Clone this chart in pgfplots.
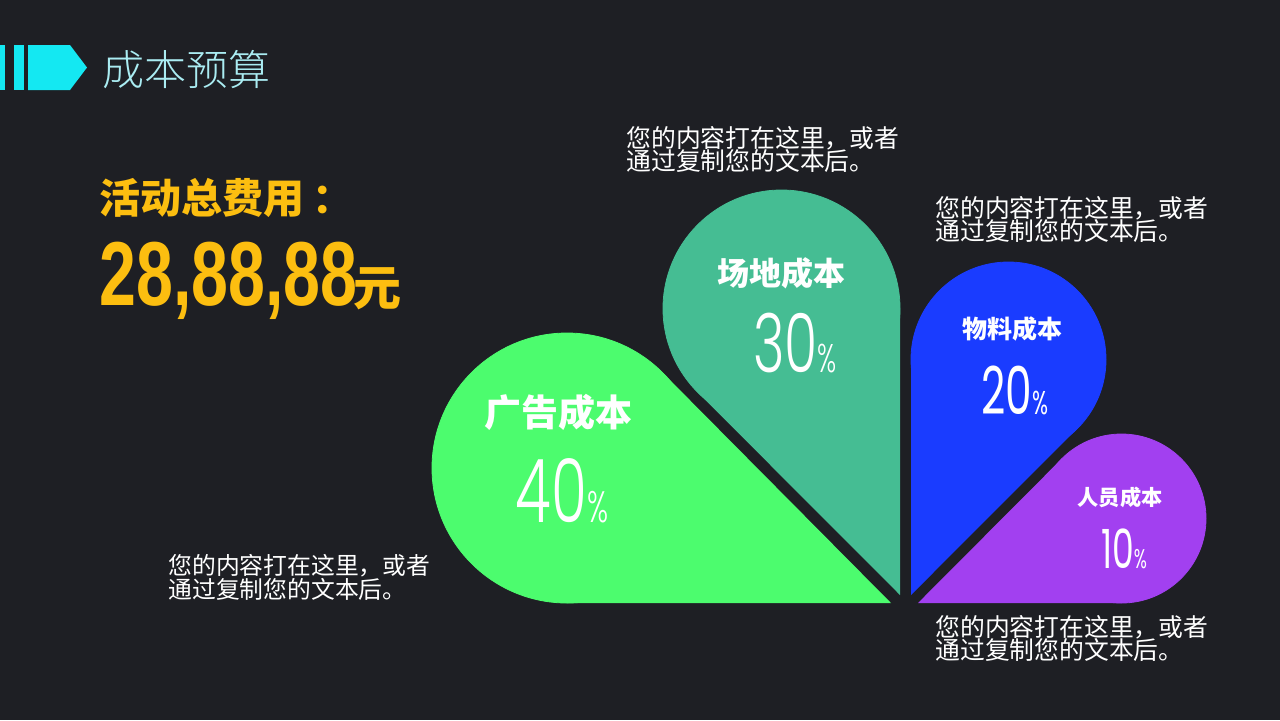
\documentclass[border=0pt]{standalone}
\usepackage{pgfplots}
\pgfplotsset{compat=1.18}
\usepackage{fontspec}
\newfontfamily\cjk{Noto Sans CJK SC}
\newfontfamily\cjklight{Noto Sans CJK SC Light}
\newfontfamily\numfont[FakeStretch=0.73]{Liberation Sans}
\newfontfamily\thinfont[FakeStretch=0.66]{Poppins Light}
\newfontfamily\regfont[FakeStretch=0.64]{Poppins}
\definecolor{bg}{RGB}{30,31,36}
\definecolor{cgreen}{RGB}{76,252,110}
\definecolor{cteal}{RGB}{69,189,147}
\definecolor{cblue}{RGB}{26,60,255}
\definecolor{cpurple}{RGB}{162,64,240}
\definecolor{cyellow}{RGB}{252,190,16}
\definecolor{ccyan}{RGB}{20,232,242}
\definecolor{ctitle}{RGB}{170,236,242}
\newcommand{\pct}[3]{{\thinfont\fontsize{#1}{#1}\selectfont #3{\fontsize{#2}{#2}\selectfont\%}}}
\newcommand{\pctr}[3]{{\regfont\fontsize{#1}{#1}\selectfont #3{\fontsize{#2}{#2}\selectfont\%}}}
\newcommand{\descA}{\cjk 您的内容打在这里，或者}
\newcommand{\descB}{\cjk 通过复制您的文本后。}
\pgfplotsset{canvas/.style={width=640pt,height=360pt,scale only axis,
  xmin=0,xmax=1280,ymin=0,ymax=720,y dir=reverse,
  hide axis,clip=false}}
\begin{document}
\begin{tikzpicture}
\begin{axis}[canvas]
\fill[bg] (axis cs:0,0) rectangle (axis cs:1280,720);
% title icon
\fill[ccyan] (axis cs:0,45) rectangle (axis cs:5,90);
\fill[ccyan] (axis cs:14,45) rectangle (axis cs:24,90);
\fill[ccyan] (axis cs:28,45) -- (axis cs:70,45) -- (axis cs:87,67.5) -- (axis cs:70,90) -- (axis cs:28,90) -- cycle;
% petals: 广告成本 40%
\addplot[draw=none,fill=cgreen] coordinates {(891,603) (567,603) (567,468) (662.5,372.5)} -- cycle;
\addplot[only marks,color=cgreen,mark=*,mark size=67.5pt,mark options={draw=cgreen,fill=cgreen}] coordinates {(567,468)};
% 场地成本 30%
\addplot[draw=none,fill=cteal] coordinates {(900,595) (900,308.5) (781.5,308.5) (697.7,392.3)} -- cycle;
\addplot[only marks,color=cteal,mark=*,mark size=59.25pt,mark options={draw=cteal,fill=cteal}] coordinates {(781.5,308.5)};
% 物料成本 20%
\addplot[draw=none,fill=cblue] coordinates {(911,595) (911,359.5) (1008.5,359.5) (1077.4,428.4)} -- cycle;
\addplot[only marks,color=cblue,mark=*,mark size=48.75pt,mark options={draw=cblue,fill=cblue}] coordinates {(1008.5,359.5)};
% 人员成本 10%
\addplot[draw=none,fill=cpurple] coordinates {(918,603) (1121.5,603) (1121.5,518.5) (1061.7,458.7)} -- cycle;
\addplot[only marks,color=cpurple,mark=*,mark size=42.25pt,mark options={draw=cpurple,fill=cpurple}] coordinates {(1121.5,518.5)};
\end{axis}
\begin{axis}[canvas]
\node[anchor=west,inner sep=0,text=ctitle] at (axis cs:102,70) {\cjklight\fontsize{21pt}{21pt}\selectfont 成本预算};
% total
\node[anchor=west,inner sep=0,text=cyellow] at (axis cs:99,198) {\cjk\bfseries\fontsize{20.5pt}{20.5pt}\selectfont 活动总费用\hspace{4pt}：};
\node[anchor=base west,inner sep=0,text=cyellow] at (axis cs:99,305) {\numfont\bfseries\fontsize{45.4pt}{45.4pt}\selectfont 28,88,88\hspace{-2pt}{\cjk\bfseries\fontsize{24pt}{24pt}\selectfont 元}};
% labels
\node[inner sep=0,text=white] at (axis cs:558,412) {\cjk\bfseries\fontsize{18.5pt}{18.5pt}\selectfont 广告成本};
\node[anchor=base,inner sep=0,text=white] at (axis cs:562,522) {\pct{44pt}{22pt}{40}};
\node[inner sep=0,text=white] at (axis cs:781,273) {\cjk\bfseries\fontsize{16pt}{16pt}\selectfont 场地成本};
\node[anchor=base,inner sep=0,text=white] at (axis cs:795,372) {\pct{40.7pt}{20pt}{30}};
\node[inner sep=0,text=white] at (axis cs:1012,329) {\cjk\bfseries\fontsize{12.5pt}{12.5pt}\selectfont 物料成本};
\node[anchor=base,inner sep=0,text=white] at (axis cs:1015,414) {\pctr{33pt}{16.5pt}{20}};
\node[inner sep=0,text=white] at (axis cs:1120,497) {\cjk\bfseries\fontsize{10.6pt}{10.6pt}\selectfont 人员成本};
\node[anchor=base,inner sep=0,text=white] at (axis cs:1124,568) {\pctr{27pt}{13.5pt}{10}};
% descriptions
\node[anchor=west,inner sep=0,text=white,font=\fontsize{12.4pt}{12.4pt}\selectfont] at (axis cs:626,138) {\descA};
\node[anchor=west,inner sep=0,text=white,font=\fontsize{12.4pt}{12.4pt}\selectfont] at (axis cs:626,161) {\descB};
\node[anchor=west,inner sep=0,text=white,font=\fontsize{12.4pt}{12.4pt}\selectfont] at (axis cs:935,208) {\descA};
\node[anchor=west,inner sep=0,text=white,font=\fontsize{12.4pt}{12.4pt}\selectfont] at (axis cs:935,231) {\descB};
\node[anchor=west,inner sep=0,text=white,font=\fontsize{11.9pt}{11.9pt}\selectfont] at (axis cs:168,566) {\descA};
\node[anchor=west,inner sep=0,text=white,font=\fontsize{11.9pt}{11.9pt}\selectfont] at (axis cs:168,589) {\descB};
\node[anchor=west,inner sep=0,text=white,font=\fontsize{12.4pt}{12.4pt}\selectfont] at (axis cs:935,627) {\descA};
\node[anchor=west,inner sep=0,text=white,font=\fontsize{12.4pt}{12.4pt}\selectfont] at (axis cs:935,650) {\descB};
\end{axis}
\end{tikzpicture}
\end{document}
